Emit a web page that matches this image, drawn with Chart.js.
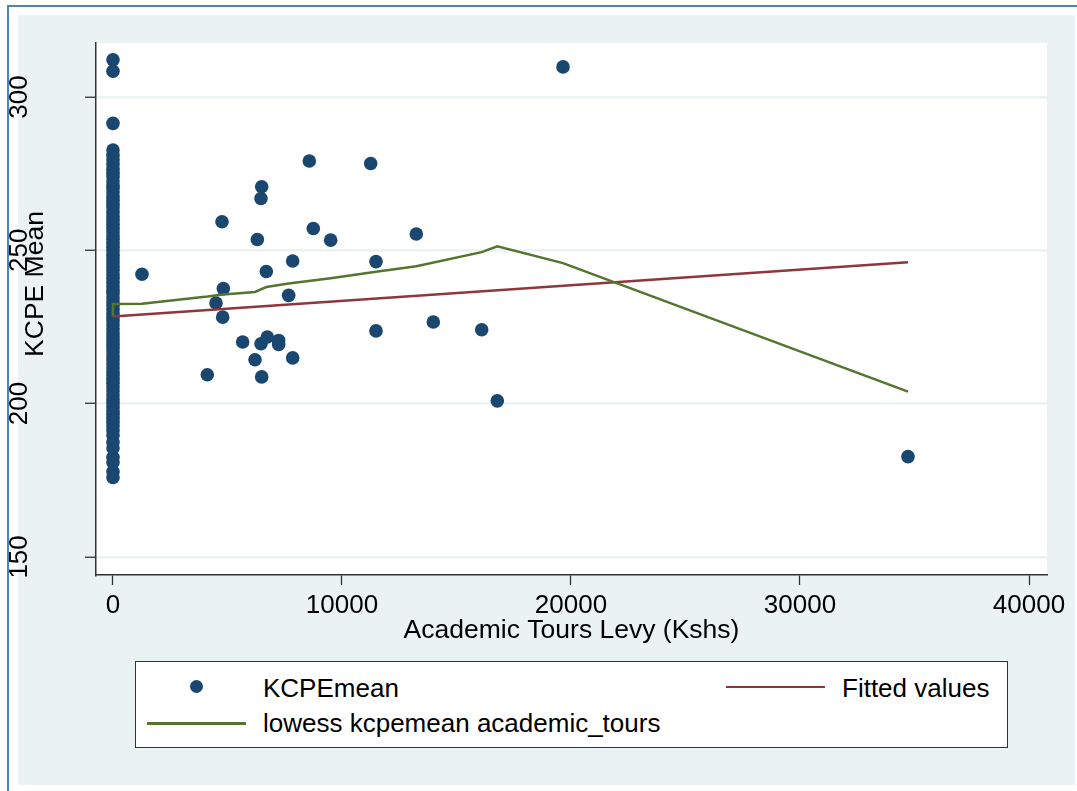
<!DOCTYPE html>
<html>
<head>
<meta charset="utf-8">
<script src="https://cdn.jsdelivr.net/npm/chart.js@4.4.1/dist/chart.umd.min.js"></script>
<style>
  html, body { margin: 0; padding: 0; background: #fff; width: 1077px; height: 791px; overflow: hidden; }
  .frame { position: absolute; left: 7px; top: 5px; right: -10px; bottom: -10px; border-left: 2px solid #4f81bd; border-top: 2px solid #4f81bd; }
  .bg { position: absolute; left: 18px; top: 15px; width: 1057px; height: 770px; background: #eaf2f3; }
  #cv { position: absolute; left: 0; top: 0; }
  .lg-box { position: absolute; left: 135px; top: 661px; width: 873px; height: 87px; border: 1.5px solid #333; background: #fff; box-sizing: border-box; }
  .lg-txt { position: absolute; font: 26px "Liberation Sans", Arial, sans-serif; line-height: 26px; color: #000; white-space: nowrap; }
  .lg-dot { position: absolute; width: 13px; height: 13px; border-radius: 50%; background: #1a476f; }
  .lg-line { position: absolute; width: 99px; height: 2.5px; }
</style>
</head>
<body>
<div class="frame"></div>
<div class="bg"></div>
<canvas id="cv" width="1077" height="791"></canvas>

<div class="lg-box"></div>
<div class="lg-dot" style="left:190px;top:680px"></div>
<div class="lg-txt" style="left:263px;top:675px">KCPEmean</div>
<div class="lg-line" style="left:726px;top:685.5px;background:#90353b"></div>
<div class="lg-txt" style="left:842px;top:675px">Fitted values</div>
<div class="lg-line" style="left:147px;top:722px;background:#55752f"></div>
<div class="lg-txt" style="left:263px;top:710px">lowess kcpemean academic_tours</div>

<script>
// schools with no academic tours levy (x = 0)
const kcpeAtZero = [312.1, 308.4, 291.4, 282.7, 281.0, 279.5, 278.0, 276.4, 275.1, 274.0, 272.6, 271.3,
  270.2, 269.0, 267.5, 266.3, 265.0, 263.9, 262.4, 261.0, 259.8, 258.5, 257.2, 256.0, 254.7, 253.6,
  252.3, 251.0, 249.8, 248.4, 247.2, 246.0, 244.7, 243.5, 242.1, 240.9, 239.6, 238.2, 237.0, 235.9,
  234.5, 233.2, 232.0, 230.8, 229.5, 228.1, 227.0, 225.7, 224.4, 223.1, 221.9, 220.6, 219.3, 218.0,
  216.8, 215.5, 214.3, 213.0, 211.7, 210.4, 209.2, 207.9, 206.6, 205.4, 204.1, 202.8, 201.5, 200.3,
  199.0, 197.7, 196.5, 195.2, 193.9, 192.7, 191.2, 189.6, 187.4, 185.5, 182.5, 180.8, 177.8, 175.9];

// schools paying a levy
const levyX = [1266, 4118, 4498, 4760, 4789, 4818, 5662, 6201, 6303, 6463, 6463, 6493, 6493, 6695, 6739,
  7234, 7234, 7671, 7846, 7846, 8573, 8747, 9505, 11253, 11485, 11485, 13245, 13988, 16100, 16782, 19651, 34716];
const levyY = [242.2, 209.4, 232.8, 259.3, 228.2, 237.5, 220.1, 214.3, 253.5, 266.9, 219.5, 270.7, 208.7, 243.1, 221.7,
  220.6, 219.3, 235.3, 246.5, 214.9, 279.1, 257.1, 253.3, 278.3, 246.3, 223.7, 255.3, 226.6, 224.1, 200.9, 309.8, 182.7];

// fitted values (linear)
const fitX = [0, 34716];
const fitY = [228.4, 246.1];

// lowess smoother
const lowX = [0, 0, 1266, 4118, 4818, 6201, 6695, 7671, 9505, 11485, 13245, 16100, 16782, 19651, 34716];
const lowY = [228.4, 232.5, 232.6, 234.9, 235.6, 236.4, 238.0, 239.2, 240.9, 243.0, 244.8, 249.4, 251.3, 245.8, 203.9];

const xTicks = [0, 10000, 20000, 30000, 40000];
const yTicks = [150, 200, 250, 300];

const pts = kcpeAtZero.map(v => ({x: 0, y: v})).concat(levyX.map((x, i) => ({x: x, y: levyY[i]})));
const pairs = (xs, ys) => xs.map((x, i) => ({x: x, y: ys[i]}));

Chart.defaults.font.family = '"Liberation Sans", Arial, sans-serif';
Chart.defaults.color = '#000';

const plotBg = {
  id: 'plotBg',
  beforeDraw(chart) {
    const a = chart.chartArea, c = chart.ctx;
    c.save(); c.fillStyle = '#fff'; c.fillRect(a.left, a.top, a.right - a.left, a.bottom - a.top); c.restore();
  },
  afterDraw(chart) {
    const c = chart.ctx;
    c.save();
    c.translate(35.5, 284); c.rotate(-Math.PI / 2);
    c.font = '26.5px "Liberation Sans", Arial, sans-serif';
    c.fillStyle = '#000'; c.textAlign = 'center'; c.textBaseline = 'middle';
    c.fillText('KCPE Mean', 0, 0);
    c.restore();
  }
};

new Chart(document.getElementById('cv'), {
  type: 'scatter',
  data: { datasets: [
    { label: 'lowess kcpemean academic_tours', data: pairs(lowX, lowY), showLine: true, borderColor: '#55752f', borderWidth: 2.5, pointRadius: 0, order: 1 },
    { label: 'Fitted values', data: pairs(fitX, fitY), showLine: true, borderColor: '#90353b', borderWidth: 2.5, pointRadius: 0, order: 2 },
    { label: 'KCPEmean', data: pts, backgroundColor: '#1a476f', borderWidth: 0, pointRadius: 6.8, order: 3 }
  ]},
  options: {
    responsive: false, animation: false,
    layout: { padding: { left: 0, top: 43, right: 30, bottom: 136 } },
    plugins: { legend: { display: false }, tooltip: { enabled: false } },
    scales: {
      x: {
        type: 'linear', min: -742, max: 40786,
        afterBuildTicks: s => { s.ticks = xTicks.map(v => ({value: v})); },
        afterFit: s => { s.height = 80; s.paddingLeft = 0; s.paddingRight = 0; },
        border: { display: true, color: '#333', width: 1.5 },
        grid: { display: true, drawOnChartArea: false, tickLength: 10, tickColor: '#333', tickWidth: 1.3 },
        ticks: { font: { size: 26 }, padding: 5, maxRotation: 0, autoSkip: false, callback: v => String(v) },
        title: { display: true, text: 'Academic Tours Levy (Kshs)', font: { size: 26.5 }, padding: { top: 0, bottom: 8 } }
      },
      y: {
        type: 'linear', min: 144.1, max: 317.6,
        afterBuildTicks: s => { s.ticks = yTicks.map(v => ({value: v})); },
        afterFit: s => { s.width = 96; s.paddingTop = 0; s.paddingBottom = 0; },
        border: { display: true, color: '#333', width: 1.5 },
        grid: { color: '#eaf2f3', lineWidth: 2.5, tickLength: 11, tickColor: '#333', tickWidth: 1.3 },
        ticks: { font: { size: 26 }, padding: 43, minRotation: 90, maxRotation: 90, crossAlign: 'center', callback: v => String(v) }
      }
    }
  },
  plugins: [plotBg]
});
</script>
</body>
</html>
